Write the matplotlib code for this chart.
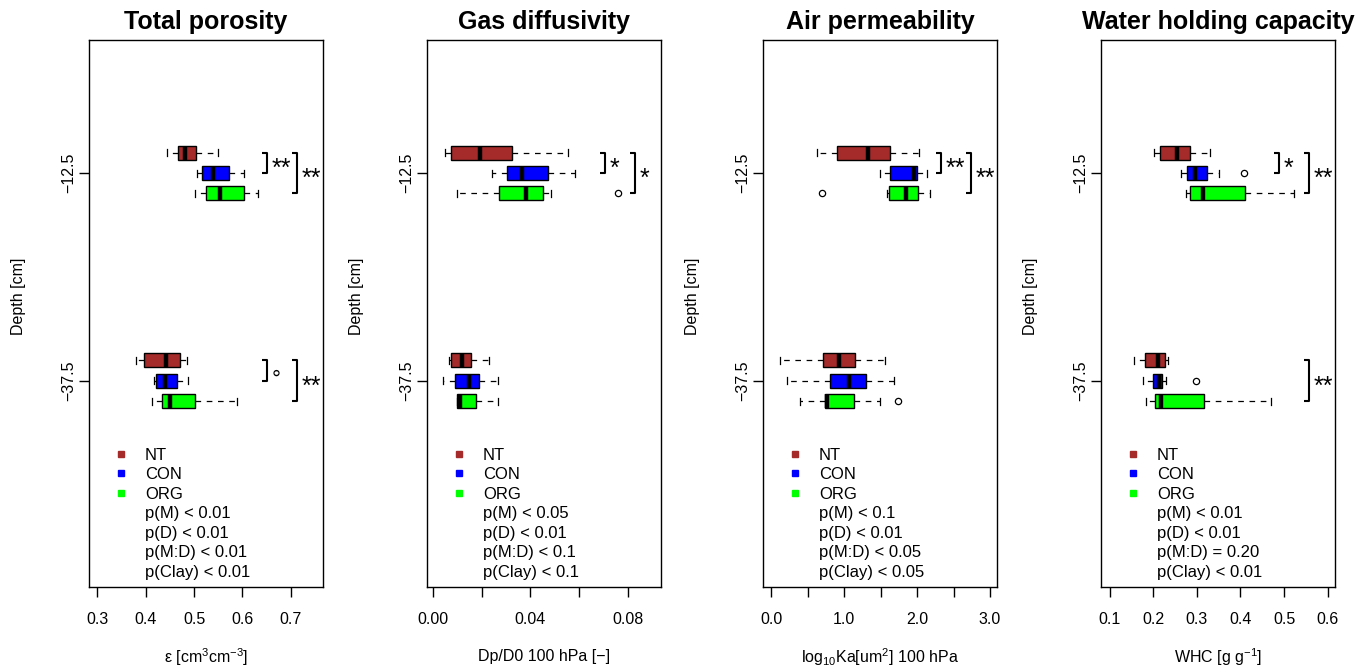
import matplotlib
matplotlib.use('Agg')
import matplotlib.pyplot as plt
from matplotlib.lines import Line2D

plt.rcParams['font.family'] = ['Liberation Sans', 'DejaVu Sans']
plt.rcParams['mathtext.fontset'] = 'custom'
plt.rcParams['mathtext.rm'] = 'Liberation Sans'
plt.rcParams['mathtext.it'] = 'Liberation Sans:italic'
plt.rcParams['mathtext.bf'] = 'Liberation Sans:bold'

# ---------------- data ----------------
treatments = ['NT', 'CON', 'ORG']
colors = ['#A52A2A', '#0000FF', '#00FF00']
depths = [-12.5, -37.5]
depth_labels = ['\u221212.5', '\u221237.5']

# five-number summaries per treatment: [whisker low, Q1, median, Q3, whisker high]
porosity_top = [[0.444, 0.467, 0.481, 0.504, 0.549],
                [0.506, 0.516, 0.540, 0.573, 0.604],
                [0.502, 0.524, 0.553, 0.603, 0.633]]
porosity_bot = [[0.379, 0.397, 0.442, 0.472, 0.486],
                [0.417, 0.422, 0.439, 0.465, 0.488],
                [0.413, 0.434, 0.450, 0.502, 0.590]]
porosity_out_top = [[], [], []]
porosity_out_bot = [[], [], []]

gas_top = [[0.0049, 0.0073, 0.0193, 0.0323, 0.0554],
           [0.0242, 0.0302, 0.0364, 0.0473, 0.0583],
           [0.0100, 0.0269, 0.0382, 0.0453, 0.0483]]
gas_bot = [[0.0066, 0.0073, 0.0118, 0.0155, 0.0231],
           [0.0040, 0.0090, 0.0149, 0.0190, 0.0268],
           [0.0097, 0.0100, 0.0111, 0.0176, 0.0268]]
gas_out_top = [[], [], [0.0760]]
gas_out_bot = [[], [], []]

perm_top = [[0.625, 0.904, 1.323, 1.633, 2.021],
            [1.497, 1.629, 1.963, 1.998, 2.135],
            [1.583, 1.611, 1.846, 2.006, 2.180]]
perm_bot = [[0.115, 0.707, 0.922, 1.150, 1.555],
            [0.220, 0.799, 1.068, 1.300, 1.679],
            [0.389, 0.730, 0.758, 1.141, 1.497]]
perm_out_top = [[], [], [0.694]]
perm_out_bot = [[], [], [1.737]]

whc_top = [[0.2007, 0.214, 0.254, 0.283, 0.329],
           [0.264, 0.277, 0.2945, 0.323, 0.350],
           [0.274, 0.284, 0.3135, 0.4105, 0.522]]
whc_bot = [[0.1556, 0.180, 0.2105, 0.2274, 0.2334],
           [0.176, 0.199, 0.2128, 0.219, 0.228],
           [0.1817, 0.2046, 0.2167, 0.317, 0.470]]
whc_out_top = [[], [0.407], []]
whc_out_bot = [[], [0.298], []]

# significance of NT vs. other treatment at each depth
porosity_sig = [(-12.5, 'CON', '**'), (-12.5, 'ORG', '**'),
                (-37.5, 'CON', '\u00b0'), (-37.5, 'ORG', '**')]
gas_sig = [(-12.5, 'CON', '*'), (-12.5, 'ORG', '*')]
perm_sig = [(-12.5, 'CON', '**'), (-12.5, 'ORG', '**')]
whc_sig = [(-12.5, 'CON', '*'), (-12.5, 'ORG', '**'), (-37.5, 'ORG', '**')]

porosity_p = ['p(M) < 0.01', 'p(D) < 0.01', 'p(M:D) < 0.01', 'p(Clay) < 0.01']
gas_p = ['p(M) < 0.05', 'p(D) < 0.01', 'p(M:D) < 0.1', 'p(Clay) < 0.1']
perm_p = ['p(M) < 0.1', 'p(D) < 0.01', 'p(M:D) < 0.05', 'p(Clay) < 0.05']
whc_p = ['p(M) < 0.01', 'p(D) < 0.01', 'p(M:D) = 0.20', 'p(Clay) < 0.01']

titles = ['Total porosity', 'Gas diffusivity', 'Air permeability', 'Water holding capacity']
xlabels = [r'$\mathrm{\varepsilon}$ [cm$^3$cm$^{-3}$]', 'Dp/D0 100 hPa [\u2212]',
           r'log$_{10}$Ka[um$^2$] 100 hPa', r'WHC [g g$^{-1}$]']
porosity_ticks = [0.3, 0.4, 0.5, 0.6, 0.7]
porosity_ticklabels = ['0.3', '0.4', '0.5', '0.6', '0.7']
gas_ticks = [0.0, 0.02, 0.04, 0.06, 0.08]
gas_ticklabels = ['0.00', '', '0.04', '', '0.08']
perm_ticks = [0.0, 0.5, 1.0, 1.5, 2.0, 2.5, 3.0]
perm_ticklabels = ['0.0', '', '1.0', '', '2.0', '', '3.0']
whc_ticks = [0.1, 0.2, 0.3, 0.4, 0.5, 0.6]
whc_ticklabels = ['0.1', '0.2', '0.3', '0.4', '0.5', '0.6']
xlims = [(0.2826, 0.767), (-0.0025, 0.0936), (-0.114, 3.096), (0.0794, 0.6172)]

# ---------------- layout ----------------
W, H = 1365, 669
ax_left_px = [89, 427, 763, 1101]
ax_w_px, ax_top_px, ax_bot_px = 234, 40, 587
ylim = (-62.3, 3.5)
offsets = [2.46, 0.0, -2.46]
box_h = 1.68
fs = 11.5
fs_leg = 12

panels = [
    (porosity_top, porosity_bot, porosity_out_top, porosity_out_bot, porosity_sig, porosity_p,
     porosity_ticks, porosity_ticklabels),
    (gas_top, gas_bot, gas_out_top, gas_out_bot, gas_sig, gas_p, gas_ticks, gas_ticklabels),
    (perm_top, perm_bot, perm_out_top, perm_out_bot, perm_sig, perm_p, perm_ticks, perm_ticklabels),
    (whc_top, whc_bot, whc_out_top, whc_out_bot, whc_sig, whc_p, whc_ticks, whc_ticklabels),
]

fig = plt.figure(figsize=(W / 100, H / 100), dpi=100)

inner_x, outer_x, arm = 0.762, 0.89, 0.022

for i, (top, bot, otop, obot, sig, ptxt, ticks, ticklabels) in enumerate(panels):
    ax = fig.add_axes([ax_left_px[i] / W, (H - ax_bot_px) / H, ax_w_px / W,
                       (ax_bot_px - ax_top_px) / H])
    stats, positions = [], []
    for d, grp, outs in ((depths[0], top, otop), (depths[1], bot, obot)):
        for k in range(3):
            lo, q1, med, q3, hi = grp[k]
            stats.append(dict(whislo=lo, q1=q1, med=med, q3=q3, whishi=hi, fliers=outs[k]))
            positions.append(d + offsets[k])
    kw = dict(positions=positions, widths=box_h, patch_artist=True, showfliers=True,
              boxprops=dict(edgecolor='black', linewidth=1.0),
              medianprops=dict(color='black', linewidth=3.2, solid_capstyle='butt'),
              whiskerprops=dict(color='black', linewidth=0.9, linestyle=(0, (4.5, 4.5))),
              capprops=dict(color='black', linewidth=0.9),
              flierprops=dict(marker='o', markerfacecolor='none', markeredgecolor='black',
                              markersize=4.5, markeredgewidth=0.9),
              capwidths=box_h / 2, manage_ticks=False)
    try:
        art = ax.bxp(stats, orientation='horizontal', **kw)
    except TypeError:
        art = ax.bxp(stats, vert=False, **kw)
    for j, b in enumerate(art['boxes']):
        b.set_facecolor(colors[j % 3])

    ax.set_xlim(*xlims[i])
    ax.set_ylim(*ylim)
    ax.set_yticks(depths)
    ax.set_yticklabels(depth_labels, rotation=90, va='center')
    ax.set_xticks(ticks)
    ax.set_xticklabels(ticklabels)
    ax.tick_params(axis='both', direction='out', length=7.2, width=1.0, labelsize=fs)
    ax.tick_params(axis='x', pad=10.5)
    ax.tick_params(axis='y', pad=2.0)
    for s in ax.spines.values():
        s.set_linewidth(1.0)

    ax.set_title(titles[i], fontsize=18, fontweight='bold', pad=8)
    ax.set_xlabel(xlabels[i], fontsize=fs)
    ax.xaxis.set_label_coords(0.5, -(657 - ax_bot_px) / (ax_bot_px - ax_top_px))
    ax.xaxis.label.set_va('center')
    ax.set_ylabel('Depth [cm]', fontsize=fs)
    ax.yaxis.label.set(rotation_mode='default', ha='center', va='center')
    ax.yaxis.set_label_coords(-0.303, (ax_bot_px - 296) / (ax_bot_px - ax_top_px))

    # significance brackets
    tr = ax.get_yaxis_transform()
    for d, other, lab in sig:
        k = treatments.index(other)
        y1 = d + offsets[0]
        y2 = d + offsets[k]
        xb = inner_x if k == 1 else outer_x
        ax.plot([xb - arm, xb, xb, xb - arm], [y1, y1, y2, y2], color='black',
                lw=1.5, transform=tr, solid_capstyle='butt', clip_on=False)
        ym = (y1 + y2) / 2
        if lab == '\u00b0':
            ax.text(xb + 0.02, ym - 1.1, lab, transform=tr, fontsize=16,
                    ha='left', va='center')
        else:
            ax.text(xb + 0.02, ym - 0.7, lab, transform=tr, fontsize=18,
                    ha='left', va='center')

    # legend
    handles = [Line2D([], [], marker='s', ms=5, color=c, linestyle='none') for c in colors]
    handles += [Line2D([], [], linestyle='none') for _ in ptxt]
    ax.legend(handles, treatments + ptxt, loc='upper left', bbox_to_anchor=(0.101, 0.255),
              frameon=False, fontsize=fs_leg, handlelength=1.0, handletextpad=0.94,
              labelspacing=0.27, borderpad=0, borderaxespad=0)

fig.savefig('out.png', dpi=100)
